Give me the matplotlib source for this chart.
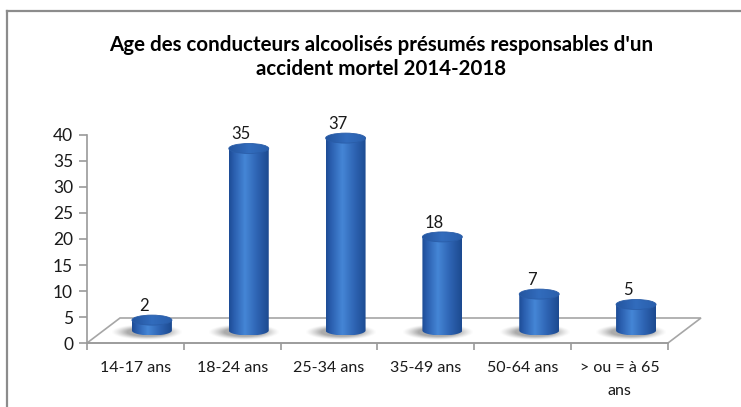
import numpy as np
import matplotlib
matplotlib.use('Agg')
import matplotlib.pyplot as plt
from matplotlib.patches import Ellipse, Polygon, PathPatch
from matplotlib.path import Path
from matplotlib.lines import Line2D
from matplotlib.colors import LinearSegmentedColormap

categories = ["14-17 ans", "18-24 ans", "25-34 ans", "35-49 ans", "50-64 ans", "> ou = à 65\nans"]
values = [2, 35, 37, 18, 7, 5]
y_ticks = [0, 5, 10, 15, 20, 25, 30, 35, 40]
title = "Age des conducteurs alcoolisés présumés responsables d'un\naccident mortel 2014-2018"

plt.rcParams['font.family'] = ['Lato', 'DejaVu Sans']

W, H = 741, 407
fig = plt.figure(figsize=(W / 100, H / 100), dpi=100)
ax = fig.add_axes([0, 0, 1, 1])

# pixel mapping of the plot
x0px, xstep = 87, 96.83
y0px, ystep = 343, 5.2
ddx, ddy = 33 / xstep, 25 / ystep        # depth offset of the floor
w = 40 / xstep                           # cylinder diameter
eh = 10 / ystep                          # ellipse height

# frame around chart (cropped at right/bottom)
fig.add_artist(Line2D([7 / W, 7 / W], [0, 1 - 11 / H], transform=fig.transFigure, color='#8C8C8C', lw=1.6))
fig.add_artist(Line2D([7 / W, 1], [1 - 11 / H, 1 - 11 / H], transform=fig.transFigure, color='#8C8C8C', lw=1.6))

n = len(categories)
# floor
floor = Polygon([(0, 0), (n, 0), (n + ddx, ddy), (ddx, ddy)], closed=True,
                facecolor='white', edgecolor='#A6A6A6', lw=1.2, zorder=1)
ax.add_patch(floor)

body_cmap = LinearSegmentedColormap.from_list('body', [
    (0.0, '#1D4C95'), (0.12, '#2A5EAE'), (0.4, '#4586D6'), (0.7, '#2E64B3'), (1.0, '#1C4A90')])
top_cmap = LinearSegmentedColormap.from_list('top', [
    (0.0, '#24559F'), (0.5, '#326CBD'), (1.0, '#2A5FAC')])

grad = np.linspace(0, 1, 200).reshape(1, -1)

# shadow image (soft elliptical blob)
gx = np.linspace(-1, 1, 160)
gy = np.linspace(-1, 1, 60)
GX, GY = np.meshgrid(gx, gy)
r = np.sqrt(GX ** 2 + GY ** 2)
alpha = np.clip((1 - r) / 0.45, 0, 1) ** 1.3 * 0.55
shadow = np.zeros((60, 160, 4))
shadow[..., :3] = 0.40
shadow[..., 3] = alpha

for i, v in enumerate(values):
    cx = i + 0.5 + ddx / 2
    base = ddy / 2
    top = base + v
    # shadow
    ax.imshow(shadow, extent=(cx - 0.42, cx + 0.32, base - 1.9, base + 1.1),
              aspect='auto', zorder=2, interpolation='bilinear')
    # body path
    t = np.linspace(np.pi, 2 * np.pi, 60)
    ex = cx + (w / 2) * np.cos(t)
    ey = base + (eh / 2) * np.sin(t)
    verts = [(cx - w / 2, top)] + list(zip(ex, ey)) + [(cx + w / 2, top), (cx - w / 2, top)]
    path = Path(verts, closed=True)
    body = PathPatch(path, facecolor='none', edgecolor='none', zorder=3)
    ax.add_patch(body)
    im = ax.imshow(grad, extent=(cx - w / 2, cx + w / 2, base - eh / 2, top), cmap=body_cmap,
                   aspect='auto', zorder=3, interpolation='bilinear')
    im.set_clip_path(body)
    # top ellipse
    te = Ellipse((cx, top), w, eh, facecolor='none', edgecolor='none', zorder=4)
    ax.add_patch(te)
    im2 = ax.imshow(grad, extent=(cx - w / 2, cx + w / 2, top - eh / 2, top + eh / 2), cmap=top_cmap,
                    aspect='auto', zorder=4, interpolation='bilinear')
    im2.set_clip_path(te)
    ax.add_patch(Ellipse((cx, top), w, eh, facecolor='none', edgecolor='#2A5DA8', lw=0.6, zorder=5))
    # label
    ax.text(i + 0.5 + 0.09, top + eh / 2 + 1.75, str(v), ha='center', va='center',
            fontsize=12, color='#1A1A1A', zorder=6)

ax.set_xlim(-x0px / xstep, (W - x0px) / xstep)
ax.set_ylim(-(H - y0px) / ystep, y0px / ystep)

# axes
for s in ['top', 'right']:
    ax.spines[s].set_visible(False)
ax.spines['left'].set_position(('data', 0))
ax.spines['left'].set_bounds(0, 40)
ax.spines['bottom'].set_position(('data', 0))
ax.spines['bottom'].set_bounds(0, n)
for s in ['left', 'bottom']:
    ax.spines[s].set_color('#9A9A9A')
    ax.spines[s].set_linewidth(1.2)
    ax.spines[s].set_zorder(1.5)

ax.set_yticks(y_ticks)
ax.set_yticklabels([str(t) for t in y_ticks])
ax.tick_params(axis='y', direction='out', length=6, width=1.2, color='#9A9A9A',
               labelsize=12.5, labelcolor='#1A1A1A', pad=4)
ax.set_xticks(np.arange(n + 1))
ax.set_xticklabels([''] * (n + 1))
ax.tick_params(axis='x', which='major', direction='out', length=5, width=1.2, color='#9A9A9A')
ax.set_xticks(np.arange(n) + 0.5, minor=True)
ax.set_xticklabels(categories, minor=True)
ax.tick_params(axis='x', which='minor', length=0, labelsize=11.5, labelcolor='#1A1A1A', pad=13)
for lab in ax.get_xticklabels(minor=True):
    lab.set_linespacing(1.85)

ax.set_facecolor('none')
fig.patch.set_facecolor('white')

fig.text(381 / W, 1 - 57 / H, title, ha='center', va='center', fontsize=14.8,
         fontweight='bold', color='black', linespacing=1.3)

fig.savefig('out.png', dpi=100)
